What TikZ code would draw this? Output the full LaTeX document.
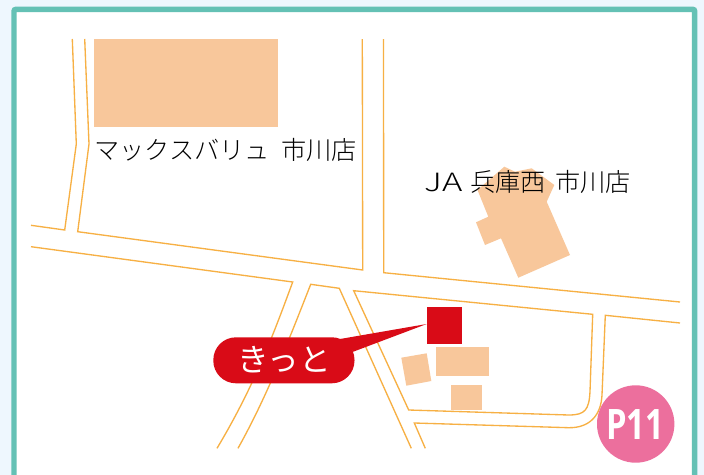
\documentclass[tikz,border=0pt]{standalone}
\usepackage{fontspec}
\setmainfont{Noto Sans CJK JP Light}
\newfontfamily\pillfont{Noto Sans CJK JP}
\newfontfamily\badgefont[FakeStretch=0.78]{Open Sans}
\definecolor{pagebg}{HTML}{EEF7FE}
\definecolor{framec}{HTML}{64C1B5}
\definecolor{roadc}{HTML}{F7B044}
\definecolor{bldg}{HTML}{F8C79B}
\definecolor{redc}{HTML}{D90B17}
\definecolor{pinkc}{HTML}{EC6F9D}
\tikzset{
  road/.style={draw=roadc,line width=1pt,line join=miter},
  building/.style={fill=bldg,draw=none},
  maplabel/.style={inner sep=0pt,text=black,font=\fontsize{18.9}{20}\selectfont},
}
\begin{document}
\begin{tikzpicture}[x=0.75pt,y=-0.75pt]
\useasboundingbox (0,0) rectangle (704,475);
\fill[pagebg] (0,0) rectangle (704,475);
\draw[framec,line width=4.1pt,fill=white,rounded corners=1.5pt] (14,490) -- (14,9.3) -- (694.7,9.3) -- (694.7,490);
% buildings
\fill[building] (94,39) rectangle (278,127);
\fill[building] (477.5,190) -- (504.3,166.7) -- (515,171.7) -- (531.7,168.3) -- (554.3,185) -- (546.7,201.7) -- (570,255) -- (518.3,277.7) -- (501,238.3) -- (485,245) -- (476,222.3) -- (488.3,216.7) -- cycle;
\fill[building] (401.3,357.7) -- (426.7,353.3) -- (431.3,381) -- (406.3,385.7) -- cycle;
\fill[building] (436,347) rectangle (489,376);
\fill[building] (451,385) rectangle (482,410);
% roads
\draw[road] (72.3,39) -- (76.3,144) -- (64.7,230) -- (31,225.3);
\draw[road] (84.7,39) -- (89,144) -- (77.7,231.7) -- (362.7,270) -- (362.3,39);
\draw[road] (383.5,39) -- (383.7,272.7) -- (680,302);
\draw[road] (31,246.7) -- (292.7,282) .. controls (275,330) and (255,385) .. (217,448.3);
\draw[road] (238,448.3) .. controls (265,400) and (285,350) .. (310.7,284.3) -- (339.3,288.3) -- (411.3,448.3);
\draw[road] (353.7,290.7) -- (592.7,314.3) -- (590,391.7) .. controls (589,410) and (585,415) .. (568.7,415) -- (408.7,410) -- cycle;
\draw[road] (425.3,448.3) -- (414.3,423) -- (568.7,427.7) .. controls (590,428) and (601,415) .. (602,395) -- (605.3,315.3) -- (680,323);
% marker
\fill[redc] (427,307) rectangle (462,344);
\fill[redc] (426.7,324) -- (340,339) -- (353.3,351.7) -- cycle;
\fill[redc,rounded corners=17pt] (213.3,337.3) rectangle (354.5,383.3);
% texts
\node[maplabel,anchor=west] (mv) at (94,150) {マックスバリュ\hspace{8.5pt}市川店};
\node[maplabel,anchor=west] (ja) at (424,182) {\scalebox{1.37}[1]{JA}\hspace{6pt}兵庫西\hspace{7pt}市川店};
\node[inner sep=0pt,text=white,font=\pillfont\fontsize{23.7}{24}\selectfont] (kitto) at (284,360) {きっと};
\fill[pinkc] (635.7,424) circle (38.7);
\node[inner sep=0pt,text=white,font=\badgefont\bfseries\fontsize{31.5}{32}\selectfont] (p11) at (635,425) {P11};
\end{tikzpicture}
\end{document}
